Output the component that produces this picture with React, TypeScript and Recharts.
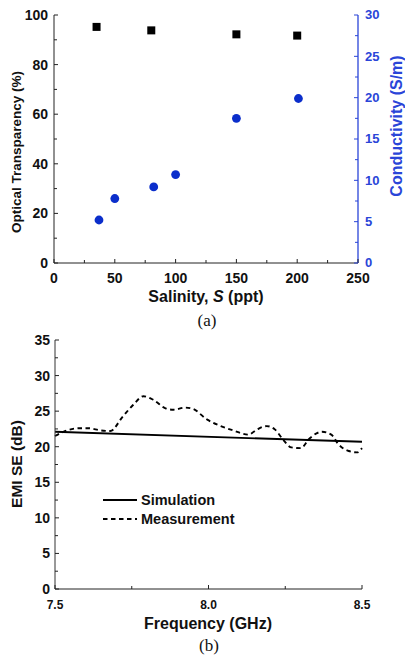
import {
	ScatterChart,
	Scatter,
	LineChart,
	Line,
	XAxis,
	YAxis,
	Legend,
} from "recharts";

// (a) optical transparency vs salinity
const salinityT = [35, 80, 150, 200];
const transparency = [95.2, 93.8, 92.2, 91.7];

// (a) conductivity vs salinity
const salinityC = [37, 50, 82, 100, 150, 201];
const conductivity = [5.2, 7.8, 9.2, 10.7, 17.5, 19.9];

const salinityTicks = [0, 25, 50, 75, 100, 125, 150, 175, 200, 225, 250];
const transTicks = [0, 10, 20, 30, 40, 50, 60, 70, 80, 90, 100];
const condTicks = [0, 2.5, 5, 7.5, 10, 12.5, 15, 17.5, 20, 22.5, 25, 27.5, 30];

// (b) EMI SE vs frequency
const simFreq = [7.5, 8.5];
const simSE = [22.1, 20.7];
const measFreq = [
	7.5, 7.527, 7.58, 7.61, 7.647, 7.68, 7.72, 7.755, 7.788, 7.82, 7.86, 7.886,
	7.924, 7.95, 7.996, 8.04, 8.08, 8.13, 8.157, 8.19, 8.217, 8.243, 8.27, 8.3,
	8.33, 8.37, 8.4, 8.424, 8.457, 8.484, 8.5,
];
const measSE = [
	21.5, 22.1, 22.6, 22.6, 22.3, 22.2, 24.2, 25.9, 27.1, 26.6, 25.4, 25.2, 25.5,
	25.3, 23.8, 22.9, 22.3, 21.7, 22.4, 22.9, 22.4, 21.0, 19.9, 19.8, 21.2, 22.1,
	21.7, 20.3, 19.4, 19.2, 19.8,
];
const freqTicks = [7.5, 7.75, 8.0, 8.25, 8.5];
const seTicks = [0, 2.5, 5, 7.5, 10, 12.5, 15, 17.5, 20, 22.5, 25, 27.5, 30, 32.5, 35];
const legendOrder = ["Simulation", "Measurement"];

const transData = salinityT.map((s, i) => ({ s, v: transparency[i] }));
const condData = salinityC.map((s, i) => ({ s, v: conductivity[i] }));
const simData = simFreq.map((f, i) => ({ f, se: simSE[i] }));
const measData = measFreq.map((f, i) => ({ f, se: measSE[i] }));

const FONT = "'Liberation Sans', Arial, sans-serif";
const BLUE = "#2a45d8";
const DOT = "#0b2ecb";

const isMajor = (v: number, step: number) => Math.abs(v / step - Math.round(v / step)) < 1e-6;

const makeBottomTick =
	(step: number, size: number, dyLabel: number, fmt: (v: number) => string) =>
	(p: any) => {
		const major = isMajor(p.payload.value, step);
		return (
			<g>
				<line x1={p.x} x2={p.x} y1={p.y} y2={p.y - (major ? 4 : 3)} stroke="#222" strokeWidth={1} />
				{major && (
					<text x={p.x} y={p.y + dyLabel} textAnchor="middle" fontFamily={FONT} fontWeight="bold" fontSize={size} fill="#111">
						{fmt(p.payload.value)}
					</text>
				)}
			</g>
		);
	};

const makeLeftTick = (step: number, size: number, gap: number) => (p: any) => {
	const major = isMajor(p.payload.value, step);
	return (
		<g>
			<line x1={p.x} x2={p.x + (major ? 4 : 3)} y1={p.y} y2={p.y} stroke="#222" strokeWidth={1} />
			{major && (
				<text x={p.x - gap} y={p.y} dy="0.36em" textAnchor="end" fontFamily={FONT} fontWeight="bold" fontSize={size} fill="#111">
					{p.payload.value}
				</text>
			)}
		</g>
	);
};

const RightTick = (p: any) => {
	const major = isMajor(p.payload.value, 5);
	return (
		<g>
			<line x1={p.x} x2={p.x - (major ? 4 : 3)} y1={p.y} y2={p.y} stroke={BLUE} strokeWidth={1} />
			{major && (
				<text x={p.x + 7} y={p.y} dy="0.33em" textAnchor="start" fontFamily={FONT} fontWeight="bold" fontSize={13} fill={BLUE}>
					{p.payload.value}
				</text>
			)}
		</g>
	);
};

const SquareDot = (p: any) => <rect x={p.cx - 4} y={p.cy - 4} width={8} height={8} fill="#000" />;
const RoundDot = (p: any) => <circle cx={p.cx} cy={p.cy} r={4.4} fill={DOT} />;

const LegendBox = (props: any) => {
	const items = [...(props.payload || [])].sort(
		(a: any, b: any) => legendOrder.indexOf(a.value) - legendOrder.indexOf(b.value)
	);
	return (
		<svg width={170} height={40}>
			{items.map((e: any, i: number) => (
				<g key={e.value}>
					<line
						x1={3}
						x2={37}
						y1={10 + i * 19}
						y2={10 + i * 19}
						stroke="#000"
						strokeWidth={1.9}
						strokeDasharray={e.payload?.strokeDasharray}
					/>
					<text x={41} y={10 + i * 19} dy="0.36em" fontFamily={FONT} fontWeight="bold" fontSize={14.5} fill="#111">
						{e.value}
					</text>
				</g>
			))}
		</svg>
	);
};

export default function App() {
	return (
		<div style={{ position: "absolute", left: 0, top: 0, width: 405, height: 657, background: "#fff" }}>
			<div style={{ position: "absolute", left: 0, top: 0 }}>
				<ScatterChart width={405} height={300} margin={{ top: 15, right: 0, bottom: 0, left: 0 }}>
					<XAxis
						xAxisId={0}
						type="number"
						dataKey="s"
						domain={[0, 250]}
						ticks={salinityTicks}
						interval={0}
						height={37}
						tickSize={0}
						tickMargin={0}
						tickLine={false}
						axisLine={{ stroke: "#222" }}
						tick={makeBottomTick(50, 14, 19.5, (v) => String(v))}
					/>
					<XAxis xAxisId="top" orientation="top" type="number" domain={[0, 250]} height={0} tick={false} tickLine={false} axisLine={{ stroke: "#333" }} />
					<YAxis
						yAxisId="left"
						type="number"
						dataKey="v"
						domain={[0, 100]}
						ticks={transTicks}
						interval={0}
						width={54}
						tickSize={0}
						tickMargin={0}
						tickLine={false}
						axisLine={{ stroke: "#222" }}
						tick={makeLeftTick(20, 14, 6)}
					/>
					<YAxis
						yAxisId="right"
						orientation="right"
						type="number"
						dataKey="v"
						domain={[0, 30]}
						ticks={condTicks}
						interval={0}
						width={47}
						tickSize={0}
						tickMargin={0}
						tickLine={false}
						axisLine={{ stroke: BLUE, strokeWidth: 1.3 }}
						tick={RightTick}
					/>
					<Scatter name="Optical Transparency" data={transData} xAxisId={0} yAxisId="left" shape={SquareDot} isAnimationActive={false} />
					<Scatter name="Conductivity" data={condData} xAxisId={0} yAxisId="right" shape={RoundDot} isAnimationActive={false} />
				</ScatterChart>
			</div>

			<div style={{ position: "absolute", left: 0, top: 325 }}>
				<LineChart width={405} height={332} margin={{ top: 15, right: 43, bottom: 0, left: 0 }}>
					<XAxis
						xAxisId={0}
						type="number"
						dataKey="f"
						domain={[7.5, 8.5]}
						ticks={freqTicks}
						interval={0}
						height={68}
						tickSize={0}
						tickMargin={0}
						tickLine={false}
						axisLine={{ stroke: "#222" }}
						tick={makeBottomTick(0.5, 12, 20, (v) => v.toFixed(1))}
					/>
					<XAxis xAxisId="top" orientation="top" type="number" domain={[7.5, 8.5]} height={0} tick={false} tickLine={false} axisLine={{ stroke: "#666", strokeWidth: 1.3 }} />
					<YAxis
						yAxisId={0}
						type="number"
						domain={[0, 35]}
						ticks={seTicks}
						interval={0}
						width={55}
						tickSize={0}
						tickMargin={0}
						tickLine={false}
						axisLine={{ stroke: "#333" }}
						tick={makeLeftTick(5, 14, 5)}
					/>
					<YAxis yAxisId="r" orientation="right" type="number" domain={[0, 35]} width={0} tick={false} tickLine={false} axisLine={{ stroke: "#666", strokeWidth: 1.5 }} />
					<Line
						name="Simulation"
						data={simData}
						dataKey="se"
						xAxisId={0}
						yAxisId={0}
						type="linear"
						stroke="#000"
						strokeWidth={1.8}
						dot={false}
						isAnimationActive={false}
					/>
					<Line
						name="Measurement"
						data={measData}
						dataKey="se"
						xAxisId={0}
						yAxisId={0}
						type="monotone"
						stroke="#000"
						strokeWidth={1.9}
						strokeDasharray="4.5 3.5"
						dot={false}
						isAnimationActive={false}
					/>
					<Legend
						layout="vertical"
						align="center"
						verticalAlign="middle"
						content={LegendBox}
						wrapperStyle={{ position: "absolute", left: 100, top: 165, width: 170, height: 40 }}
					/>
				</LineChart>
			</div>

			<svg width={405} height={657} style={{ position: "absolute", left: 0, top: 0, pointerEvents: "none" }}>
				<g fontFamily={FONT} fontWeight="bold" fill="#111">
					<text transform="translate(21,152) rotate(-90)" textAnchor="middle" fontSize={13.5}>
						Optical Transparency (%)
					</text>
					<text transform="translate(402,126) rotate(-90)" textAnchor="middle" fontSize={16} fill={BLUE}>
						Conductivity (S/m)
					</text>
					<text x={206} y={302} textAnchor="middle" fontSize={16}>
						Salinity, <tspan fontStyle="italic">S</tspan> (ppt)
					</text>
					<text transform="translate(22,464) rotate(-90)" textAnchor="middle" fontSize={15.5}>
						EMI SE (dB)
					</text>
					<text x={208} y={629} textAnchor="middle" fontSize={16}>
						Frequency (GHz)
					</text>
				</g>
				<g fontFamily="'Liberation Serif', 'Times New Roman', serif" fill="#111" fontSize={17}>
					<text x={207} y={326} textAnchor="middle">
						(a)
					</text>
					<text x={209} y={651} textAnchor="middle">
						(b)
					</text>
				</g>
			</svg>
		</div>
	);
}
